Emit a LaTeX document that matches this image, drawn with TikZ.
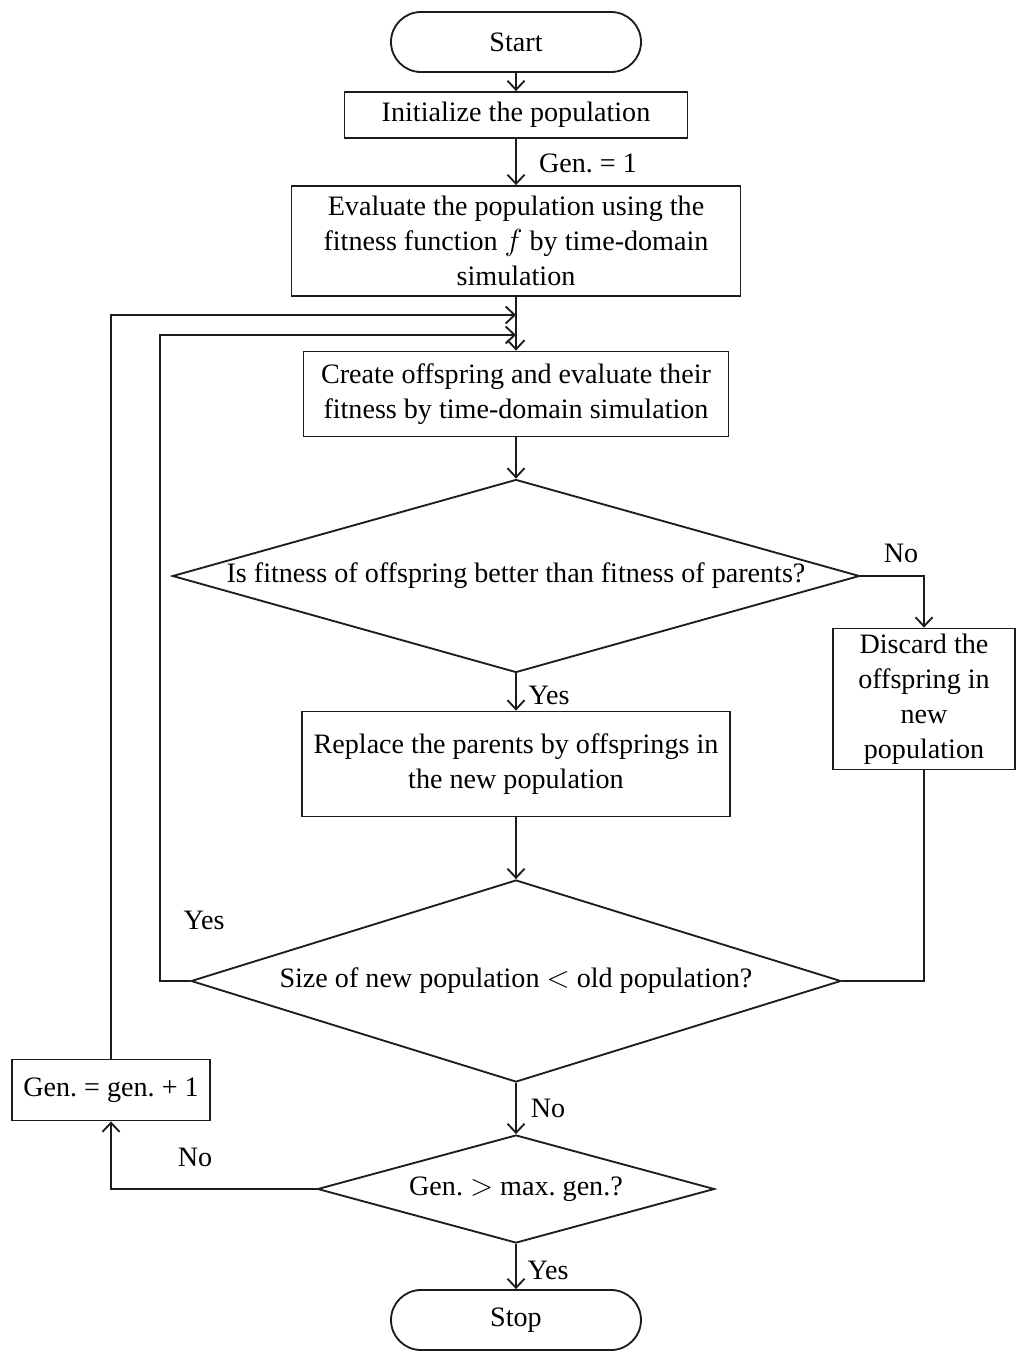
\documentclass[tikz,border=0pt]{standalone}
\usepackage{fontspec}
\setmainfont{Liberation Serif}
\usepackage{tikz}
\usetikzlibrary{positioning,arrows.meta,shapes.geometric}
\definecolor{linec}{HTML}{1C1C1C}
\frenchspacing

\begin{document}
\begin{tikzpicture}[x=0.2mm, y=-0.2mm, font=\fontsize{16}{20}\selectfont,
  box/.style={draw=linec, line width=1.05pt, align=center, inner sep=0pt},
  term/.style={box, rounded corners=6mm, minimum width=50mm, minimum height=12mm},
  dec/.style={draw=linec, line width=1.05pt, shape=diamond, inner sep=0pt},
  flow/.style={draw=linec, line width=1.05pt, -{Straight Barb[length=1.8mm,width=3.4mm]}},
  wire/.style={draw=linec, line width=1.05pt},
  lbl/.style={inner sep=1pt}]
  \useasboundingbox (0,0) rectangle (1016,1354);
  % blocks
  \node[term] (start) at (516,42) {Start};
  \node[box, minimum width=68.6mm, minimum height=9.2mm] (init) at (516,115) {Initialize the population};
  \node[box, minimum width=89.8mm, minimum height=22mm] (eval) at (516,241)
    {Evaluate the population using the\\ fitness function $f$ by time-domain\\ simulation};
  \node[box, minimum width=85mm, minimum height=17mm] (create) at (516,394)
    {Create offspring and evaluate their\\ fitness by time-domain simulation};
  \node[dec, minimum width=137.4mm, minimum height=38.6mm,
        label=center:{Is fitness of offspring better than fitness of parents?}] (fit) at (516,576) {};
  \node[box, minimum width=36.4mm, minimum height=28.2mm] (discard) at (924,699)
    {Discard the\\ offspring in\\ new\\ population};
  \node[box, minimum width=85.6mm, minimum height=21mm] (replace) at (516,764)
    {Replace the parents by offsprings in\\ the new population};
  \node[dec, minimum width=130mm, minimum height=40.4mm,
        label=center:{Size of new population $<$ old population?}] (size) at (516,981) {};
  \node[dec, minimum width=79.4mm, minimum height=21.6mm,
        label=center:{Gen. $>$ max. gen.?}] (maxgen) at (516,1189) {};
  \node[box, minimum width=39.6mm, minimum height=12.2mm] (incr) at (111,1090) {Gen. = gen. + 1};
  \node[term] (stop) at (516,1320) {Stop};
  % merge points
  \coordinate (m1) at (516,315);
  \coordinate (m2) at (516,335);
  % connectors
  \draw[flow] (start) -- (init);
  \draw[flow] (init) -- (eval);
  \draw[flow] (eval) -- (create);
  \draw[flow] (create) -- (fit);
  \draw[flow] (fit.east) -| (discard.north);
  \draw[flow] (fit.south) -- (replace.north);
  \draw[flow] (replace) -- (size.north);
  \draw[wire] (discard.south) |- (size.east);
  \draw[flow] (size.west) -- ++(-30,0) |- (m2);
  \draw[flow] (size.south) -- (maxgen.north);
  \draw[flow] (maxgen.west) -| (incr.south);
  \draw[flow] (incr.north) |- (m1);
  \draw[flow] (maxgen.south) -- (stop.north);
  % labels
  \node[lbl] (lgen) at (588,163) {Gen. = 1};
  \node[lbl] (lno1) at (901,553) {No};
  \node[lbl] (lyes1) at (549,695) {Yes};
  \node[lbl] (lyes2) at (204,920) {Yes};
  \node[lbl] (lno2) at (548,1108) {No};
  \node[lbl] (lno3) at (195,1157) {No};
  \node[lbl] (lyes3) at (548,1270) {Yes};
\end{tikzpicture}
\end{document}
